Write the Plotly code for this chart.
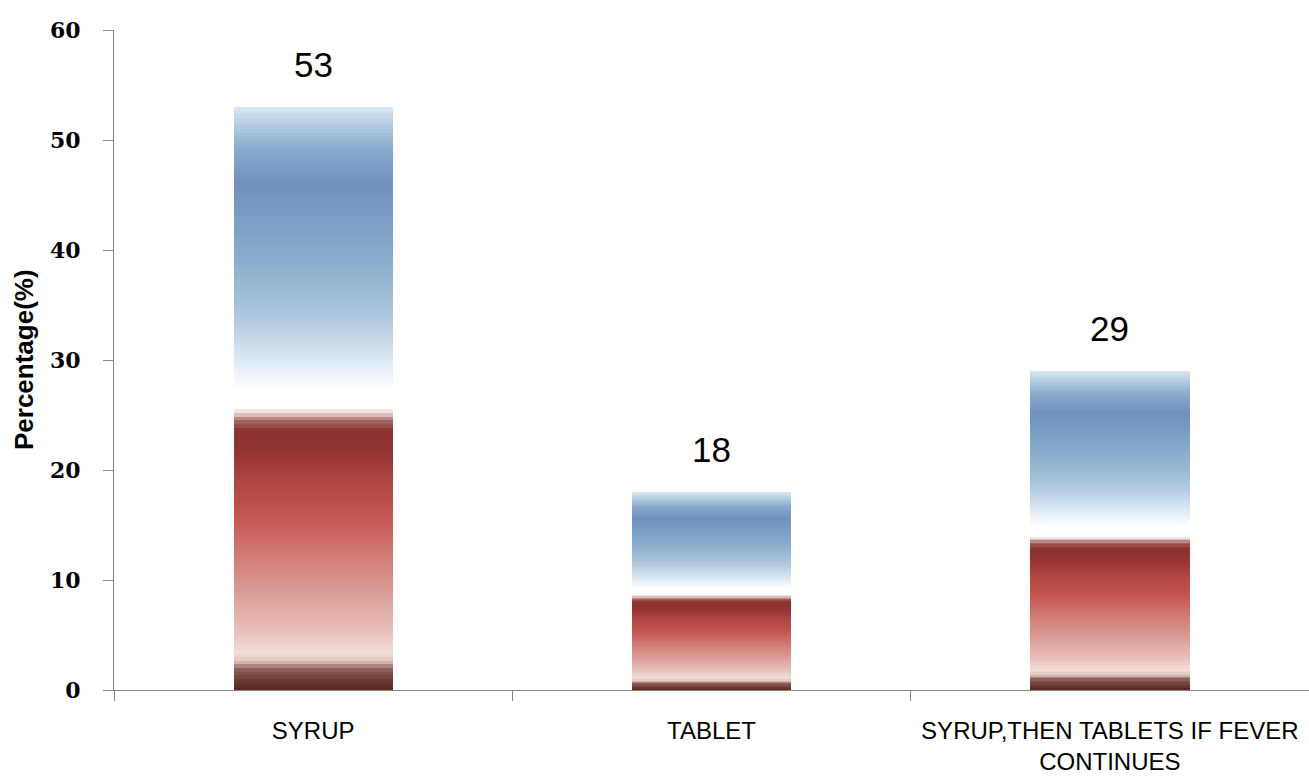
import plotly.graph_objects as go

# ---- data ----
categories = ["SYRUP", "TABLET", "SYRUP,THEN TABLETS IF FEVER<br>CONTINUES"]
values = [53, 18, 29]
y_ticks = [0, 10, 20, 30, 40, 50, 60]

# gradient stops (fraction of bar height from bottom -> colour)
grad_pos = [0.0, 0.015, 0.035, 0.05, 0.065, 0.10, 0.16, 0.23, 0.30, 0.36, 0.41, 0.445,
            0.462, 0.475, 0.485, 0.515, 0.535, 0.58, 0.64, 0.72, 0.80, 0.87, 0.93, 0.97, 1.0]
grad_col = ["#5a2822", "#6a3830", "#8e6058", "#e4c6c0", "#f2dcd8", "#e8c0bb", "#dca09a",
            "#d27c76", "#c65450", "#ae4642", "#923432", "#8a3230",
            "#a86a64", "#ead8d6", "#ffffff", "#ffffff", "#f2f7fc", "#d2e2ef", "#aec8de",
            "#8fb1cf", "#7ba0c6", "#7190bf", "#8aaccd", "#b4cde2", "#d6e8f4"]

N_SEG = 160


def hex2rgb(h):
    h = h.lstrip("#")
    return tuple(int(h[i:i + 2], 16) for i in (0, 2, 4))


def grad_at(f):
    for i in range(len(grad_pos) - 1):
        a, b = grad_pos[i], grad_pos[i + 1]
        if a <= f <= b:
            t = 0 if b == a else (f - a) / (b - a)
            c1, c2 = hex2rgb(grad_col[i]), hex2rgb(grad_col[i + 1])
            c = [round(c1[j] + (c2[j] - c1[j]) * t) for j in range(3)]
            return "rgb(%d,%d,%d)" % tuple(c)
    return grad_col[-1]


fig = go.Figure()
for k in range(N_SEG):
    frac = (k + 0.5) / N_SEG
    fig.add_trace(go.Bar(
        x=categories,
        y=[v / N_SEG for v in values],
        marker=dict(color=grad_at(frac), line=dict(width=0)),
        showlegend=False,
        hoverinfo="skip",
    ))

for c, v in zip(categories, values):
    fig.add_annotation(x=c, y=v, text=str(v), showarrow=False, yanchor="bottom",
                       yshift=21, font=dict(family="Liberation Sans", size=35, color="#000"))

fig.add_annotation(xref="paper", yref="paper", x=-0.0753, y=0.5, text="<b>Percentage(%)</b>",
                   textangle=-90, showarrow=False, xanchor="center", yanchor="middle",
                   font=dict(family="Liberation Sans", size=26, color="#000"))

fig.update_layout(
    width=1309, height=780,
    margin=dict(l=114, r=0, t=30, b=90),
    barmode="stack", bargap=0.6,
    plot_bgcolor="white", paper_bgcolor="white",
)
fig.update_xaxes(
    type="category", range=[-0.5, 2.5],
    showline=True, linecolor="#868686", linewidth=1,
    ticks="outside", tickson="boundaries", ticklen=10, tickcolor="#868686",
    showgrid=False, zeroline=False,
    tickfont=dict(family="Liberation Sans", size=24, color="#000"),
    ticklabelstandoff=19,
)
fig.update_yaxes(
    range=[0, 60], tickvals=y_ticks,
    showline=True, linecolor="#868686", linewidth=1,
    ticks="outside", ticklen=10, tickcolor="#868686",
    showgrid=False, zeroline=False,
    tickfont=dict(family="DejaVu Serif", size=22, color="#000", weight="bold"),
    ticklabelstandoff=18,
)

fig.write_html("out.html")
